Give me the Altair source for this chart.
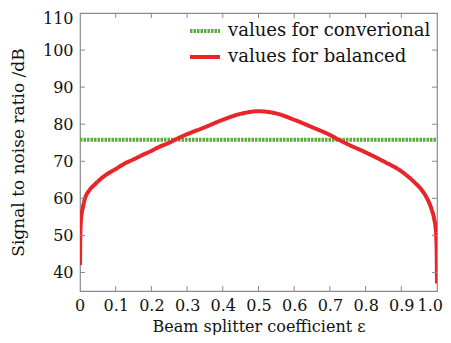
import altair as alt
import pandas as pd

# ---- data ----
balanced_eps = [0, 0.001, 0.003, 0.008, 0.014, 0.025, 0.042, 0.06, 0.08, 0.1,
                0.125, 0.15, 0.175, 0.2, 0.22, 0.25, 0.27, 0.3, 0.35, 0.4,
                0.45, 0.5, 0.55, 0.6, 0.65, 0.7, 0.725, 0.75, 0.8, 0.85,
                0.9, 0.935, 0.955, 0.972, 0.985, 0.992, 0.997, 0.999, 1.0]
balanced_snr = [42, 50, 54.5, 57.5, 60, 62, 63.8, 65.4, 66.8, 67.9,
                69.4, 70.5, 71.7, 72.8, 73.8, 75, 76, 77.3, 79.2, 81.2,
                82.8, 83.5, 82.9, 81.2, 79.2, 77.1, 75.8, 74.6, 72.4, 70,
                67.3, 64.5, 62.5, 60, 57, 54.5, 51, 46, 37]
conv_eps = [0, 0.25, 0.5, 0.75, 1.0]
conv_snr = [75.8, 75.8, 75.8, 75.8, 75.8]

series_names = ["values for converional", "values for balanced"]
x_ticks = [0, 0.1, 0.2, 0.3, 0.4, 0.5, 0.6, 0.7, 0.8, 0.9, 1.0]
y_ticks = [40, 50, 60, 70, 80, 90, 100, 110]
x_inner_ticks = [0.1, 0.2, 0.3, 0.4, 0.5, 0.6, 0.7, 0.8, 0.9]
y_inner_ticks = [40, 50, 60, 70, 80, 90, 100]

W, H = 357, 278
FONT = "DejaVu Serif"
TICK_FS = 16
XTITLE_FS = 16
YTITLE_FS = 17
LEG_FS = 18
GREEN = "#5eac3c"
RED = "#e8262a"
GRAY = "#8a8a8a"

df = pd.concat([
    pd.DataFrame({"eps": conv_eps, "snr": conv_snr, "series": series_names[0], "ord": 0}),
    pd.DataFrame({"eps": balanced_eps, "snr": balanced_snr, "series": series_names[1], "ord": 1}),
])
xt = pd.DataFrame({"eps": x_inner_ticks})
yt = pd.DataFrame({"snr": y_inner_ticks})

xscale = alt.Scale(domain=[0, 1], nice=False, zero=False)
yscale = alt.Scale(domain=[35, 110], nice=False, zero=False)

x_axis = alt.Axis(values=x_ticks, ticks=False, domain=False, grid=False,
                  labelExpr="datum.value == 0 ? '0' : format(datum.value, '.1f')",
                  labelOverlap=False, labelPadding=6, labelFont=FONT,
                  labelFontSize=TICK_FS, labelColor="#111",
                  labelFlush=True, labelFlushOffset=5.5,
                  title="Beam splitter coefficient ε",
                  titleFont=FONT, titleFontSize=XTITLE_FS, titleFontWeight="normal",
                  titleColor="#111", titlePadding=5)
y_axis = alt.Axis(values=y_ticks, ticks=False, domain=False, grid=False,
                  labelOverlap=False, labelPadding=7, labelFont=FONT,
                  labelFontSize=TICK_FS, labelColor="#111",
                  labelFlush=True, labelFlushOffset=3,
                  title="Signal to noise ratio /dB",
                  titleFont=FONT, titleFontSize=YTITLE_FS, titleFontWeight="normal",
                  titleColor="#111", titlePadding=15)

legend_kw = dict(title=None, orient="none", legendX=108, legendY=1,
                 symbolType="stroke", symbolSize=900, symbolStrokeWidth=4,
                 labelFont=FONT, labelFontSize=LEG_FS, labelColor="#111",
                 labelLimit=400, rowPadding=-8, labelOffset=6)

lines = alt.Chart(df).mark_line(strokeWidth=4, clip=True, interpolate="monotone").encode(
    x=alt.X("eps:Q", scale=xscale, axis=x_axis),
    y=alt.Y("snr:Q", scale=yscale, axis=y_axis),
    color=alt.Color("series:N", scale=alt.Scale(domain=series_names, range=[GREEN, RED]),
                    legend=alt.Legend(**legend_kw)),
    strokeDash=alt.StrokeDash("series:N",
                              scale=alt.Scale(domain=series_names, range=[[2.5, 1], [1, 0]]),
                              legend=alt.Legend(**legend_kw)),
    order="ord:Q",
    detail="series:N",
)

tick_b = alt.Chart(xt).mark_rule(color=GRAY, strokeWidth=1).encode(
    x=alt.X("eps:Q", scale=xscale, axis=x_axis), y=alt.value(H), y2=alt.value(H - 5))
tick_t = alt.Chart(xt).mark_rule(color=GRAY, strokeWidth=1).encode(
    x=alt.X("eps:Q", scale=xscale, axis=x_axis), y=alt.value(0), y2=alt.value(5))
tick_l = alt.Chart(yt).mark_rule(color=GRAY, strokeWidth=1).encode(
    y=alt.Y("snr:Q", scale=yscale, axis=y_axis), x=alt.value(0), x2=alt.value(5))
tick_r = alt.Chart(yt).mark_rule(color=GRAY, strokeWidth=1).encode(
    y=alt.Y("snr:Q", scale=yscale, axis=y_axis), x=alt.value(W), x2=alt.value(W - 5))

chart = alt.layer(lines, tick_b, tick_t, tick_l, tick_r).properties(
    width=W, height=H,
    autosize=alt.AutoSizeParams(type="none"),
    padding={"left": 72, "top": 5, "right": 6, "bottom": 44},
    background="white",
).configure_view(stroke=GRAY, strokeWidth=1.2)

chart.save("out.html", embed_options={"renderer": "svg", "actions": False})
